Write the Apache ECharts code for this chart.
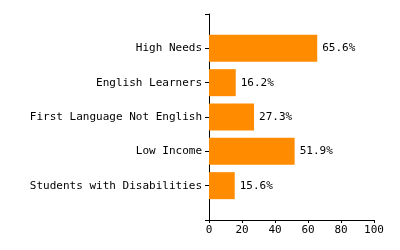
<!DOCTYPE html>
<html>
<head>
<meta charset="utf-8">
<script src="https://cdn.jsdelivr.net/npm/echarts@6/dist/echarts.min.js"></script>
<style>html,body{margin:0;padding:0;background:#fff}#c{width:400px;height:250px}</style>
</head>
<body>
<div id="c"></div>
<script>
var categories = ['High Needs', 'English Learners', 'First Language Not English', 'Low Income', 'Students with Disabilities'];
var values = [65.6, 16.2, 27.3, 51.9, 15.6];
var xTicks = [0, 20, 40, 60, 80, 100];

var font = 'DejaVu Sans Mono';
var cats = [''].concat(categories).concat(['']);
var vals = ['-'].concat(values).concat(['-']);

var chart = echarts.init(document.getElementById('c'), null, {renderer: 'canvas'});
chart.setOption({
  animation: false,
  backgroundColor: '#fff',
  grid: {left: 209, right: 26, top: 14, bottom: 30, containLabel: false},
  xAxis: {
    type: 'value', min: xTicks[0], max: xTicks[xTicks.length - 1], interval: 20,
    splitLine: {show: false},
    axisLine: {show: true, lineStyle: {color: '#000', width: 1}},
    axisTick: {show: true, length: 3, lineStyle: {color: '#000'}},
    axisLabel: {color: '#000', fontFamily: font, fontSize: 11, margin: 5}
  },
  yAxis: {
    type: 'category', data: cats, inverse: true, boundaryGap: false,
    axisLine: {show: true, lineStyle: {color: '#000', width: 1}},
    axisTick: {show: true, length: 4, interval: 0, lineStyle: {color: '#000'}},
    axisLabel: {color: '#000', fontFamily: font, fontSize: 11, margin: 7, interval: 0},
    splitLine: {show: false}
  },
  series: [{
    type: 'bar', data: vals, barWidth: 27,
    itemStyle: {color: '#ff8c00'},
    label: {show: true, position: 'right', distance: 5, formatter: '{c}%',
            color: '#000', fontFamily: font, fontSize: 11}
  }]
});
</script>
</body>
</html>
